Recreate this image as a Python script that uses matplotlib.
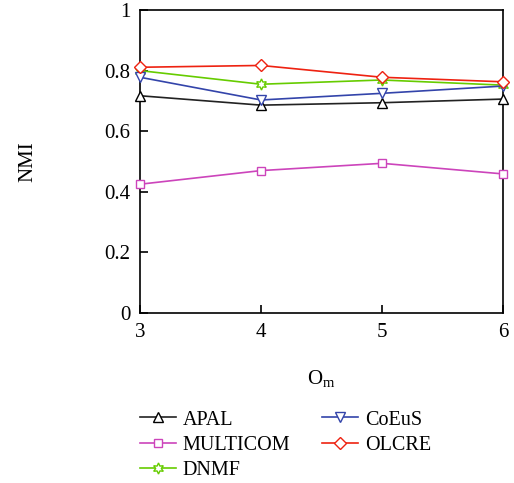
import matplotlib
matplotlib.use("Agg")
import matplotlib.pyplot as plt

plt.rcParams['font.family'] = ['Liberation Serif', 'DejaVu Serif']

x = [3, 4, 5, 6]
apal = [0.717, 0.686, 0.694, 0.706]
multicom = [0.425, 0.470, 0.494, 0.459]
dnmf = [0.800, 0.755, 0.769, 0.752]
coeus = [0.778, 0.703, 0.725, 0.749]
olcre = [0.811, 0.817, 0.778, 0.763]
yticks = [0, 0.2, 0.4, 0.6, 0.8, 1]
yticklabels = ['0', '0.2', '0.4', '0.6', '0.8', '1']

fig = plt.figure(figsize=(5.14, 4.83), dpi=100)
ax = fig.add_axes([140/514, 1-313/483, 363/514, 303/483])

ms = 7
ax.plot(x, apal, color='#222222', marker='^', mfc='white', mec='black', ms=ms, lw=1.2, label='APAL', clip_on=False, zorder=3)
ax.plot(x, multicom, color='#cc44bb', marker='s', mfc='white', ms=6, lw=1.2, label='MULTICOM', clip_on=False, zorder=3)
ax.plot(x, dnmf, color='#66cc00', marker=(6, 1, 0), mfc='white', ms=8, lw=1.2, label='DNMF', clip_on=False, zorder=3)
ax.plot(x, coeus, color='#3344aa', marker='v', mfc='white', ms=ms, lw=1.2, label='CoEuS', clip_on=False, zorder=3)
ax.plot(x, olcre, color='#ee2211', marker='D', mfc='white', ms=6.5, lw=1.2, label='OLCRE', clip_on=False, zorder=4)

ax.set_xlim(3, 6)
ax.set_ylim(0, 1)
ax.set_xticks(x)
ax.set_yticks(yticks)
ax.set_yticklabels(yticklabels)
ax.tick_params(direction='in', labelsize=15, length=6, width=1.2, top=False, right=False)
ax.tick_params(axis='y', pad=7)
ax.tick_params(axis='x', pad=7)
for s in ax.spines.values():
    s.set_linewidth(1.2)

ax.set_xlabel('O$_{\\mathregular{m}}$', fontsize=15, labelpad=19)
ax.set_ylabel('NMI', fontsize=15, labelpad=48)

ax.legend(loc='upper left', bbox_to_anchor=(-0.038, -0.275), ncol=2, frameon=False,
          fontsize=14.5, handlelength=1.75, columnspacing=1.6, labelspacing=0.3,
          handletextpad=0.35, borderpad=0.2)

fig.savefig('out.png', dpi=100)
